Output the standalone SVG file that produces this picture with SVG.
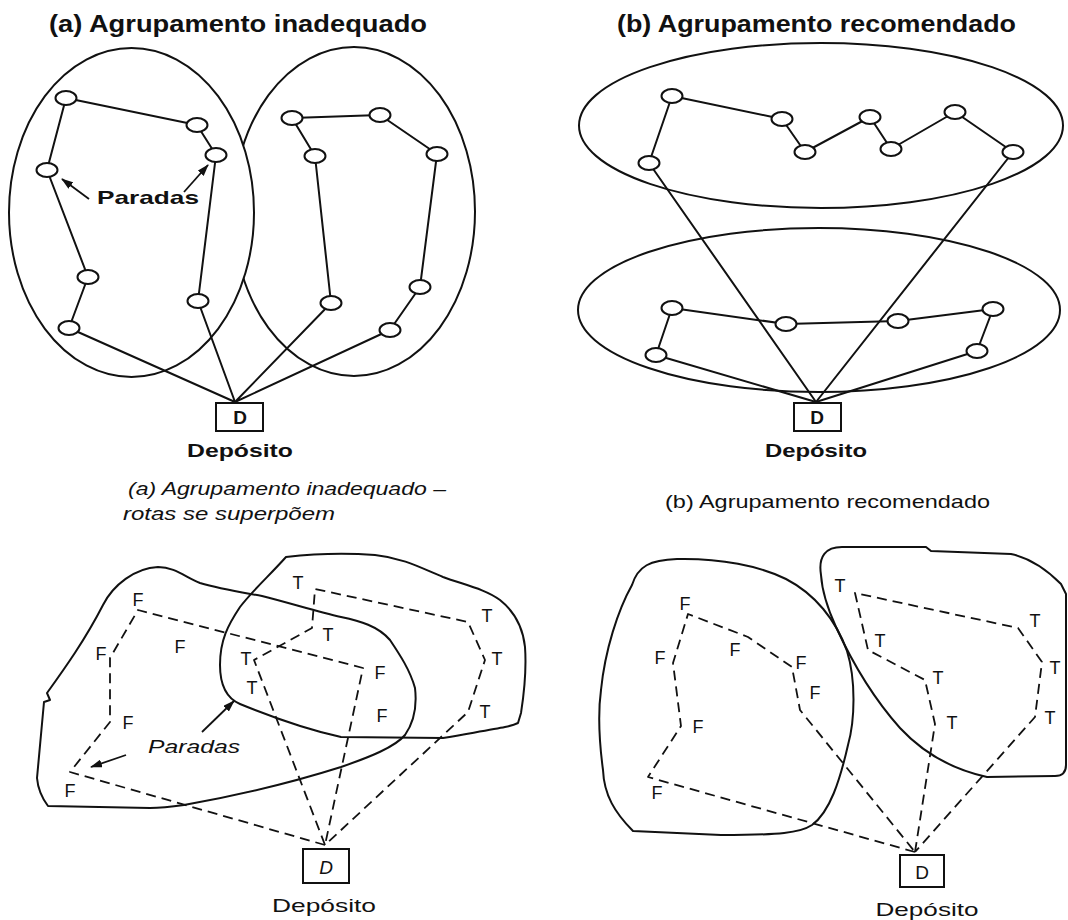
<svg xmlns="http://www.w3.org/2000/svg" width="1068" height="920" viewBox="0 0 1068 920">
  <style>
    .ln{fill:none;stroke:#111;stroke-width:2;stroke-linejoin:round}
    .blob{fill:none;stroke:#111;stroke-width:2;stroke-linejoin:round}
    .stop{fill:#fff;stroke:#111;stroke-width:2}
    .dash{fill:none;stroke:#111;stroke-width:1.8;stroke-dasharray:10 6;stroke-linejoin:round}
    .box{fill:#fff;stroke:#111;stroke-width:2}
    .hd{font-family:"Liberation Sans",Arial,sans-serif;font-weight:bold;font-size:23px;fill:#111}
    .bl{font-family:"Liberation Sans",Arial,sans-serif;font-weight:bold;font-size:19px;fill:#111}
    .rg{font-family:"Liberation Sans",Arial,sans-serif;font-size:19px;fill:#111}
    .st{font-family:"Liberation Sans",Arial,sans-serif;font-size:18px;fill:#111;text-anchor:middle}
    .it{font-style:italic}
    .arr{fill:none;stroke:#111;stroke-width:1.8;marker-end:url(#tip)}
  </style>
  <defs>
    <marker id="tip" markerUnits="userSpaceOnUse" markerWidth="12" markerHeight="8" refX="11" refY="4" orient="auto">
      <path d="M0,0 L12,4 L0,8 Z" fill="#111"/>
    </marker>
  </defs>
  <rect width="1068" height="920" fill="#fff"/>

  <!-- ===== Top left: poor clustering ===== -->
  <g id="top-a">
    <text class="hd" x="49" y="32" textLength="378" lengthAdjust="spacingAndGlyphs">(a) Agrupamento inadequado</text>
    <g id="top-a-clusters">
      <ellipse class="blob" cx="354" cy="211.5" rx="121" ry="164.5"/>
      <ellipse class="blob" cx="131.5" cy="212.5" rx="122.5" ry="164.5" fill="#fff" style="fill:#fff"/>
    </g>
    <g id="top-a-routes">
      <polyline class="ln" points="235,402 69,328 88,277 47,170 66,98 197,125 216,155 198,301 235,402"/>
      <polyline class="ln" points="235,402 331,303 315,156 292,118 380,115 437,154 420,287 390,330 235,402"/>
      <line class="arr" x1="89" y1="199" x2="62" y2="179"/>
      <line class="arr" x1="184" y1="192" x2="208" y2="165"/>
    </g>
    <g id="top-a-s1"><ellipse class="stop" cx="66" cy="98" rx="10.5" ry="7"/></g>
    <g id="top-a-s2"><ellipse class="stop" cx="197" cy="125" rx="10.5" ry="7"/></g>
    <g id="top-a-s3"><ellipse class="stop" cx="216" cy="155" rx="10.5" ry="7"/></g>
    <g id="top-a-s4"><ellipse class="stop" cx="47" cy="170" rx="10.5" ry="7"/></g>
    <g id="top-a-s5"><ellipse class="stop" cx="88" cy="277" rx="10.5" ry="7"/></g>
    <g id="top-a-s6"><ellipse class="stop" cx="69" cy="328" rx="10.5" ry="7"/></g>
    <g id="top-a-s7"><ellipse class="stop" cx="198" cy="301" rx="10.5" ry="7"/></g>
    <g id="top-a-s8"><ellipse class="stop" cx="292" cy="118" rx="10.5" ry="7"/></g>
    <g id="top-a-s9"><ellipse class="stop" cx="380" cy="115" rx="10.5" ry="7"/></g>
    <g id="top-a-s10"><ellipse class="stop" cx="315" cy="156" rx="10.5" ry="7"/></g>
    <g id="top-a-s11"><ellipse class="stop" cx="437" cy="154" rx="10.5" ry="7"/></g>
    <g id="top-a-s12"><ellipse class="stop" cx="331" cy="303" rx="10.5" ry="7"/></g>
    <g id="top-a-s13"><ellipse class="stop" cx="420" cy="287" rx="10.5" ry="7"/></g>
    <g id="top-a-s14"><ellipse class="stop" cx="390" cy="330" rx="10.5" ry="7"/></g>
    <text class="bl" x="97" y="204" textLength="102" lengthAdjust="spacingAndGlyphs">Paradas</text>
    <g id="top-a-depot">
      <rect class="box" x="216" y="403" width="47" height="28"/>
      <text class="bl" x="240" y="424" text-anchor="middle" font-size="19">D</text>
      <text class="bl" x="240" y="457" text-anchor="middle" textLength="106" lengthAdjust="spacingAndGlyphs">Depósito</text>
    </g>
  </g>

  <!-- ===== Top right: recommended clustering ===== -->
  <g id="top-b">
    <text class="hd" x="617" y="32" textLength="399" lengthAdjust="spacingAndGlyphs">(b) Agrupamento recomendado</text>
    <g id="top-b-clusters">
      <ellipse class="blob" cx="821" cy="125.5" rx="242" ry="82.5"/>
      <ellipse class="blob" cx="819" cy="310" rx="241" ry="82"/>
    </g>
    <g id="top-b-routes">
      <polyline class="ln" points="816,402 649,163 672,96 782,119 805,152 870,117 891,149 955,112 1013,152 816,402"/>
      <polyline class="ln" points="816,402 656,355 672,308 786,324 898,321 993,309 977,351 816,402"/>
    </g>
    <g id="top-b-s1"><ellipse class="stop" cx="672" cy="96" rx="10.5" ry="7"/></g>
    <g id="top-b-s2"><ellipse class="stop" cx="782" cy="119" rx="10.5" ry="7"/></g>
    <g id="top-b-s3"><ellipse class="stop" cx="805" cy="152" rx="10.5" ry="7"/></g>
    <g id="top-b-s4"><ellipse class="stop" cx="870" cy="117" rx="10.5" ry="7"/></g>
    <g id="top-b-s5"><ellipse class="stop" cx="891" cy="149" rx="10.5" ry="7"/></g>
    <g id="top-b-s6"><ellipse class="stop" cx="955" cy="112" rx="10.5" ry="7"/></g>
    <g id="top-b-s7"><ellipse class="stop" cx="1013" cy="152" rx="10.5" ry="7"/></g>
    <g id="top-b-s8"><ellipse class="stop" cx="649" cy="163" rx="10.5" ry="7"/></g>
    <g id="top-b-s9"><ellipse class="stop" cx="672" cy="308" rx="10.5" ry="7"/></g>
    <g id="top-b-s10"><ellipse class="stop" cx="786" cy="324" rx="10.5" ry="7"/></g>
    <g id="top-b-s11"><ellipse class="stop" cx="898" cy="321" rx="10.5" ry="7"/></g>
    <g id="top-b-s12"><ellipse class="stop" cx="993" cy="309" rx="10.5" ry="7"/></g>
    <g id="top-b-s13"><ellipse class="stop" cx="977" cy="351" rx="10.5" ry="7"/></g>
    <g id="top-b-s14"><ellipse class="stop" cx="656" cy="355" rx="10.5" ry="7"/></g>
    <g id="top-b-depot">
      <rect class="box" x="794" y="403" width="47" height="28"/>
      <text class="bl" x="817" y="424" text-anchor="middle">D</text>
      <text class="bl" x="816" y="457" text-anchor="middle" textLength="102" lengthAdjust="spacingAndGlyphs">Depósito</text>
    </g>
  </g>

  <!-- ===== Bottom left: overlapping routes ===== -->
  <g id="bottom-a">
    <text class="rg it" x="128" y="495" textLength="318" lengthAdjust="spacingAndGlyphs">(a) Agrupamento inadequado –</text>
    <text class="rg it" x="123" y="520" textLength="212" lengthAdjust="spacingAndGlyphs">rotas se superpõem</text>
    <g id="bottom-a-clusters">
      <path class="blob" d="M47,693 C65,668 85,640 103,605 C113,585 135,568 158,567 C175,567 185,577 200,583 C220,589 240,592 262,596 C290,603 318,612 341,617 C360,621 378,626 390,640 C400,655 410,670 415,688 C417,705 414,722 405,735 C395,747 370,757 341,767 C300,780 240,795 184,805 C170,807 160,808 150,808 L48,806 C42,798 38,790 37,778 L44,702 L50,700 Z"/>
      <path class="blob" d="M286,557 C320,553 350,553 375,555 C405,558 425,570 443,577 C465,585 485,589 500,600 C515,612 523,628 525,647 C527,675 523,700 521,713 L518,723 C510,727 500,728 443,738 L341,737 C300,728 262,713 240,704 C226,698 220,685 220,665 C220,640 228,625 240,607 C253,590 270,575 286,557 Z"/>
    </g>
    <g id="bottom-a-routes">
      <polyline class="dash" points="325,845 70,772 110,722 110,658 138,610 363,668 325,845"/>
      <polyline class="dash" points="325,845 254,660 312,628 315,589 468,622 485,660 468,712 325,845"/>
      <line class="arr" x1="202" y1="732" x2="234" y2="701"/>
      <line class="arr" x1="126" y1="755" x2="91" y2="767"/>
    </g>
    <g id="bottom-a-stops-f">
      <text id="ba-f1" class="st" x="138" y="606">F</text>
      <text id="ba-f2" class="st" x="180" y="653">F</text>
      <text id="ba-f3" class="st" x="101" y="660">F</text>
      <text id="ba-f4" class="st" x="128" y="729">F</text>
      <text id="ba-f5" class="st" x="70" y="797">F</text>
      <text id="ba-f6" class="st" x="380" y="679">F</text>
      <text id="ba-f7" class="st" x="382" y="722">F</text>
    </g>
    <g id="bottom-a-stops-t">
      <text id="ba-t1" class="st" x="298" y="589">T</text>
      <text id="ba-t2" class="st" x="328" y="641">T</text>
      <text id="ba-t3" class="st" x="246" y="665">T</text>
      <text id="ba-t4" class="st" x="252" y="694">T</text>
      <text id="ba-t5" class="st" x="487" y="622">T</text>
      <text id="ba-t6" class="st" x="497" y="665">T</text>
      <text id="ba-t7" class="st" x="485" y="718">T</text>
    </g>
    <text class="rg it" x="148" y="753" textLength="92" lengthAdjust="spacingAndGlyphs">Paradas</text>
    <g id="bottom-a-depot">
      <rect class="box" x="303" y="849" width="46" height="34"/>
      <text class="rg it" x="326" y="874" text-anchor="middle" font-size="21">D</text>
      <text class="rg" x="324" y="912" text-anchor="middle" textLength="104" lengthAdjust="spacingAndGlyphs">Depósito</text>
    </g>
  </g>

  <!-- ===== Bottom right: separated routes ===== -->
  <g id="bottom-b">
    <text class="rg" x="665" y="508" textLength="325" lengthAdjust="spacingAndGlyphs">(b) Agrupamento recomendado</text>
    <g id="bottom-b-clusters">
      <path class="blob" d="M633,831 C615,813 604,795 603,770 C599,740 598,712 601,690 C605,650 618,610 632,585 C638,566 650,560 677,559 C720,558 760,566 786,579 C815,594 836,620 847,651 C856,680 855,720 848,745 C840,780 830,812 812,825 C800,833 780,835 721,835 Z"/>
      <path class="blob" d="M821,575 C818,556 826,547 842,547 L926,547 L931,551 L1011,554 C1030,558 1045,568 1061,584 L1066,594 L1066,765 C1066,772 1062,776 1055,776 L987,777 C955,770 925,755 900,728 C875,700 852,662 836,627 C826,605 822,590 821,575 Z"/>
    </g>
    <g id="bottom-b-routes">
      <polyline class="dash" points="915,852 648,777 681,726 673,663 688,614 748,637 792,667 800,710 915,852"/>
      <polyline class="dash" points="915,852 935,724 925,680 868,650 855,593 1018,628 1042,662 1035,717 915,852"/>
    </g>
    <g id="bottom-b-stops-f">
      <text id="bb-f1" class="st" x="685" y="610">F</text>
      <text id="bb-f2" class="st" x="660" y="664">F</text>
      <text id="bb-f3" class="st" x="735" y="656">F</text>
      <text id="bb-f4" class="st" x="801" y="669">F</text>
      <text id="bb-f5" class="st" x="815" y="699">F</text>
      <text id="bb-f6" class="st" x="698" y="733">F</text>
      <text id="bb-f7" class="st" x="657" y="799">F</text>
    </g>
    <g id="bottom-b-stops-t">
      <text id="bb-t1" class="st" x="840" y="592">T</text>
      <text id="bb-t2" class="st" x="1035" y="627">T</text>
      <text id="bb-t3" class="st" x="1055" y="674">T</text>
      <text id="bb-t4" class="st" x="1050" y="724">T</text>
      <text id="bb-t5" class="st" x="880" y="647">T</text>
      <text id="bb-t6" class="st" x="938" y="684">T</text>
      <text id="bb-t7" class="st" x="952" y="729">T</text>
    </g>
    <g id="bottom-b-depot">
      <rect class="box" x="900" y="855" width="44" height="32"/>
      <text class="rg" x="922" y="879" text-anchor="middle" font-size="21">D</text>
      <text class="rg" x="927" y="916" text-anchor="middle" textLength="103" lengthAdjust="spacingAndGlyphs">Depósito</text>
    </g>
  </g>
</svg>
